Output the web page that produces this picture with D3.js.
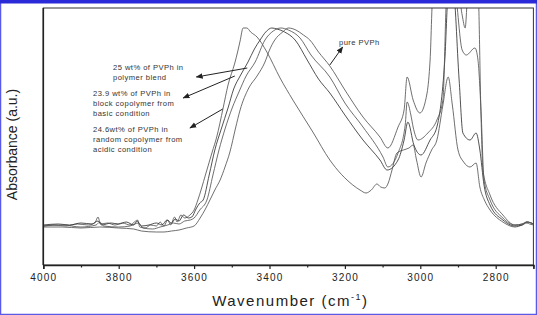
<!DOCTYPE html>
<html><head><meta charset="utf-8">
<script src="https://cdn.jsdelivr.net/npm/d3@7/dist/d3.min.js"></script>
<style>body{margin:0;background:#fff}svg{display:block}</style>
</head><body>
<svg id="chart" width="537" height="315"></svg>
<script>
// ---- data (wavenumber cm-1, absorbance a.u.) ----
const xMajorTicks = [4000, 3800, 3600, 3400, 3200, 3000, 2800];
const xMinorTicks = [3900, 3700, 3500, 3300, 3100, 2900, 2700];

const seriesBlend = [[4000,0.39],[3970,0.40],[3940,0.39],[3910,0.41],[3880,0.40],[3862,0.43],[3855,0.48],[3848,0.41],[3830,0.42],[3810,0.40],[3790,0.42],[3770,0.40],[3755,0.44],[3750,0.45],[3744,0.38],[3730,0.37],[3715,0.40],[3700,0.39],[3690,0.43],[3680,0.39],[3670,0.45],[3662,0.40],[3652,0.48],[3645,0.43],[3635,0.50],[3625,0.47],[3611,0.50],[3600,0.55],[3590,0.65],[3580,0.77],[3570,0.90],[3552,1.13],[3540,1.28],[3523,1.57],[3510,1.80],[3492,2.02],[3484,2.14],[3478,2.24],[3470,2.37],[3460,2.37],[3450,2.33],[3433,2.28],[3407,2.13],[3372,1.87],[3338,1.65],[3285,1.33],[3240,1.05],[3179,0.80],[3160,0.75],[3144,0.72],[3130,0.75],[3115,0.81],[3105,0.78],[3094,0.77],[3085,0.82],[3075,0.95],[3062,1.12],[3045,1.15],[3030,1.17],[3019,1.20],[3010,1.05],[2998,0.88],[2985,1.02],[2970,1.15],[2956,1.25],[2940,1.60],[2926,1.88],[2915,1.60],[2900,1.15],[2885,1.03],[2868,0.98],[2852,1.02],[2842,0.78],[2830,0.65],[2815,0.55],[2781,0.43],[2749,0.38],[2730,0.40],[2717,0.42],[2710,0.41],[2700,0.40]];

const seriesBlock = [[4000,0.40],[3960,0.41],[3930,0.40],[3900,0.42],[3870,0.41],[3855,0.44],[3845,0.40],[3820,0.42],[3800,0.41],[3780,0.43],[3760,0.40],[3751,0.44],[3740,0.39],[3720,0.40],[3700,0.42],[3685,0.40],[3672,0.45],[3660,0.42],[3650,0.46],[3640,0.44],[3628,0.50],[3615,0.47],[3606,0.48],[3595,0.56],[3585,0.62],[3576,0.65],[3560,0.90],[3545,1.15],[3528,1.36],[3510,1.57],[3495,1.76],[3478,1.89],[3457,2.03],[3440,2.16],[3425,2.25],[3410,2.33],[3394,2.37],[3380,2.36],[3360,2.33],[3332,2.25],[3300,2.05],[3270,1.86],[3240,1.72],[3200,1.50],[3152,1.25],[3107,1.05],[3088,0.95],[3059,1.05],[3043,1.25],[3033,1.43],[3017,1.20],[2998,1.10],[2974,1.25],[2956,1.38],[2935,2.05],[2925,2.75],[2913,2.75],[2897,1.85],[2887,1.32],[2868,1.25],[2852,1.32],[2842,1.15],[2831,0.80],[2815,0.60],[2781,0.45],[2749,0.39],[2730,0.40],[2717,0.43],[2700,0.41]];

const seriesRandom = [[4000,0.39],[3950,0.40],[3900,0.38],[3860,0.40],[3850,0.43],[3840,0.39],[3800,0.38],[3770,0.39],[3748,0.42],[3735,0.37],[3710,0.36],[3690,0.38],[3670,0.40],[3655,0.42],[3640,0.41],[3625,0.44],[3610,0.45],[3600,0.47],[3585,0.55],[3566,0.65],[3550,0.90],[3534,1.15],[3518,1.36],[3499,1.57],[3480,1.74],[3462,1.89],[3438,2.03],[3412,2.25],[3390,2.34],[3370,2.37],[3350,2.35],[3319,2.27],[3290,2.10],[3240,1.88],[3200,1.62],[3152,1.38],[3099,1.08],[3086,0.98],[3059,1.12],[3040,1.40],[3035,1.63],[3025,1.50],[3019,1.38],[3006,1.25],[2980,1.32],[2956,1.45],[2940,1.65],[2929,2.75],[2910,2.75],[2889,2.15],[2878,2.10],[2855,2.17],[2847,2.05],[2839,1.55],[2831,0.85],[2815,0.65],[2781,0.47],[2749,0.40],[2730,0.41],[2717,0.43],[2700,0.41]];

const seriesPure = [[4000,0.38],[3950,0.38],[3900,0.37],[3850,0.38],[3800,0.37],[3760,0.36],[3740,0.34],[3700,0.33],[3680,0.33],[3660,0.34],[3640,0.35],[3620,0.37],[3600,0.39],[3584,0.47],[3570,0.56],[3558,0.65],[3545,0.75],[3531,0.85],[3518,0.98],[3505,1.13],[3490,1.37],[3478,1.55],[3455,1.77],[3433,1.89],[3412,2.03],[3400,2.15],[3386,2.25],[3365,2.33],[3350,2.37],[3330,2.35],[3310,2.30],[3293,2.25],[3270,2.13],[3240,1.99],[3200,1.75],[3152,1.48],[3107,1.28],[3086,1.17],[3059,1.38],[3043,1.55],[3035,1.88],[3019,1.65],[3001,1.52],[2982,1.72],[2974,2.05],[2966,2.75],[2900,2.75],[2889,2.50],[2881,2.37],[2873,2.75],[2847,2.75],[2839,1.50],[2834,0.95],[2815,0.70],[2781,0.50],[2749,0.40],[2730,0.41],[2717,0.43],[2700,0.41]];

const labelTexts = [
  ["25 wt% of PVPh in", "polymer blend"],
  ["23.9 wt% of PVPh in", "block copolymer from", "basic condition"],
  ["24.6wt% of PVPh in", "random copolymer from", "acidic condition"],
  ["pure PVPh"]
];
// arrow anchors in data units: [fromW, fromA, toW, toA]
const arrowSpecs = [
  [3459, 1.97, 3594, 1.88],
  [3492, 1.89, 3629, 1.67],
  [3524, 1.56, 3611, 1.37],
  [3240, 2.00, 3206, 2.18]
];

// ---- drawing ----
const W = 537, H = 315;
const svg = d3.select("#chart");
const m = {l: 43.3, r: 533.4, t: 8, b: 265};
const x = d3.scaleLinear().domain([4000, 2700]).range([m.l, m.r]);
const y = d3.scaleLinear().domain([0, 2.57]).range([m.b, m.t]);

// outer blue frame
svg.append("rect").attr("x", 0.5).attr("y", 0.5).attr("width", W - 1).attr("height", H - 1)
  .attr("fill", "none").attr("stroke", "#5a5ae6").attr("stroke-width", 1.5);
svg.append("rect").attr("x", 0).attr("y", 0).attr("width", W).attr("height", 3.5).attr("fill", "#2a2ad8");

svg.append("defs").append("clipPath").attr("id", "clip")
  .append("rect").attr("x", m.l).attr("y", m.t).attr("width", m.r - m.l).attr("height", m.b - m.t);

const line = d3.line().x(d => x(d[0])).y(d => y(d[1])).curve(d3.curveMonotoneX);
const g = svg.append("g").attr("clip-path", "url(#clip)");
[seriesBlend, seriesBlock, seriesRandom, seriesPure].forEach((s, i) => {
  g.append("path").datum(s).attr("d", line).attr("fill", "none")
    .attr("stroke", i === 1 ? "#333" : "#555").attr("stroke-width", 0.85);
});

// plot box
svg.append("rect").attr("x", m.l).attr("y", m.t).attr("width", m.r - m.l).attr("height", m.b - m.t)
  .attr("fill", "none").attr("stroke", "#333").attr("stroke-width", 1);
svg.append("line").attr("x1", m.l).attr("x2", m.l).attr("y1", m.t).attr("y2", m.b)
  .attr("stroke", "#222").attr("stroke-width", 1.6);

// x axis
const xAxis = d3.axisBottom(x).tickValues(xMajorTicks).tickSize(4).tickPadding(5).tickFormat(d3.format("d"));
const ax = svg.append("g").attr("transform", `translate(0,${m.b})`).call(xAxis);
ax.select(".domain").attr("stroke", "#222").attr("stroke-width", 1.6);
ax.selectAll(".tick line").attr("stroke", "#222").attr("stroke-width", 1.2);
ax.selectAll(".tick text").attr("font-family", "Liberation Sans, Arial, sans-serif")
  .attr("font-size", 10).attr("letter-spacing", "1.2px").attr("fill", "#222");
const axMinor = svg.append("g").attr("transform", `translate(0,${m.b})`)
  .call(d3.axisBottom(x).tickValues(xMinorTicks).tickSize(2.5).tickFormat(""));
axMinor.select(".domain").remove();
axMinor.selectAll(".tick line").attr("stroke", "#222").attr("stroke-width", 1.2);

// axis titles
const xt = svg.append("text").attr("x", (m.l + m.r) / 2 + 2).attr("y", 306).attr("text-anchor", "middle")
  .attr("font-family", "Liberation Sans, Arial, sans-serif").attr("font-size", 15)
  .attr("letter-spacing", "1.5px").attr("fill", "#222");
xt.append("tspan").text("Wavenumber (cm");
xt.append("tspan").attr("dy", -6).attr("font-size", 9).text("-1");
xt.append("tspan").attr("dy", 6).text(")");

svg.append("text").attr("transform", `translate(17,${(m.t + m.b) / 2 + 8}) rotate(-90)`)
  .attr("text-anchor", "middle").attr("font-family", "Liberation Sans, Arial, sans-serif")
  .attr("font-size", 14).attr("fill", "#222").text("Absorbance (a.u.)");

// annotations
const labelPos = [[113, 70], [93, 96], [93, 132], [339, 45]];
labelTexts.forEach((lines, i) => {
  const t = svg.append("text").attr("font-family", "Liberation Sans, Arial, sans-serif")
    .attr("font-size", 7.6).attr("letter-spacing", "0.45px").attr("fill", "#333");
  lines.forEach((s, j) => t.append("tspan").attr("x", labelPos[i][0]).attr("y", labelPos[i][1] + j * 9.8).text(s));
});
svg.select("defs").append("marker").attr("id", "ah").attr("viewBox", "0 0 10 10")
  .attr("refX", 9).attr("refY", 5).attr("markerWidth", 7).attr("markerHeight", 7)
  .attr("orient", "auto").attr("markerUnits", "userSpaceOnUse")
  .append("path").attr("d", "M0,1 L10,5 L0,9 z").attr("fill", "#222");
arrowSpecs.forEach(a => {
  svg.append("line").attr("x1", x(a[0])).attr("y1", y(a[1])).attr("x2", x(a[2])).attr("y2", y(a[3]))
    .attr("stroke", "#222").attr("stroke-width", 1).attr("marker-end", "url(#ah)");
});
</script>
</body></html>
